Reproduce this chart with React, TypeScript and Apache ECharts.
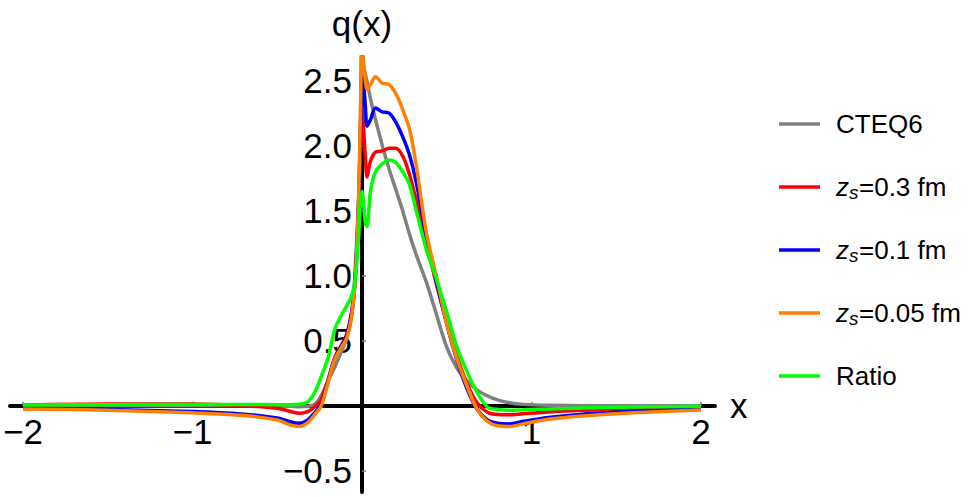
import React, { useEffect, useRef } from "react";
import * as echarts from "echarts";

const FONT = '"Liberation Sans", Arial, Helvetica, sans-serif';

// shared x sample points
const xs = [-2, -1.5, -1, -0.7, -0.5, -0.42, -0.37, -0.32, -0.28, -0.24, -0.2, -0.16, -0.12, -0.09, -0.06, -0.04, -0.02, -0.01, 0, 0.01, 0.02, 0.03, 0.05, 0.08, 0.12, 0.16, 0.2, 0.24, 0.28, 0.32, 0.38, 0.44, 0.5, 0.56, 0.62, 0.68, 0.74, 0.8, 0.87, 0.95, 1.1, 1.3, 1.6, 2.0];

const cteq6 = [0, 0, 0, 0, -0.002, -0.005, -0.008, -0.005, 0.01, 0.08, 0.19, 0.3, 0.42, 0.52, 0.7, 1.05, 1.6, 2.1, 2.9, 2.62, 2.55, 2.49, 2.36, 2.2, 2.0, 1.82, 1.66, 1.5, 1.32, 1.16, 0.95, 0.7, 0.45, 0.29, 0.19, 0.12, 0.075, 0.045, 0.022, 0.01, 0.003, 0, 0, 0];

const zs03 = [0.005, 0.012, 0.012, 0.0, -0.02, -0.045, -0.058, -0.045, -0.01, 0.05, 0.2, 0.37, 0.47, 0.55, 0.73, 0.98, 1.5, 1.9, 2.3, 2.12, 1.9, 1.76, 1.88, 1.95, 1.96, 1.98, 1.98, 1.92, 1.78, 1.58, 1.25, 0.93, 0.64, 0.38, 0.17, 0.02, -0.05, -0.068, -0.07, -0.062, -0.048, -0.035, -0.025, -0.02];

const zs01 = [-0.02, -0.03, -0.045, -0.065, -0.095, -0.125, -0.135, -0.11, -0.055, 0.01, 0.19, 0.37, 0.46, 0.54, 0.72, 0.98, 1.55, 2.05, 2.58, 2.47, 2.3, 2.15, 2.2, 2.29, 2.26, 2.25, 2.18, 2.07, 1.93, 1.72, 1.3, 0.95, 0.63, 0.35, 0.13, -0.03, -0.11, -0.135, -0.14, -0.12, -0.09, -0.065, -0.045, -0.025];

const zs005 = [-0.025, -0.035, -0.055, -0.075, -0.11, -0.15, -0.16, -0.13, -0.07, 0.0, 0.18, 0.36, 0.45, 0.52, 0.7, 0.97, 1.6, 2.2, 2.72, 2.62, 2.5, 2.43, 2.47, 2.53, 2.48, 2.47, 2.4, 2.28, 2.13, 1.85, 1.33, 0.99, 0.63, 0.36, 0.15, -0.03, -0.12, -0.155, -0.16, -0.14, -0.105, -0.08, -0.055, -0.033];

const ratio = [0.005, 0.008, 0.01, 0.01, 0.008, 0.008, 0.012, 0.03, 0.1, 0.225, 0.37, 0.59, 0.7, 0.77, 0.85, 0.97, 1.3, 1.55, 1.65, 1.55, 1.4, 1.38, 1.65, 1.8, 1.86, 1.89, 1.87, 1.8, 1.7, 1.5, 1.2, 0.97, 0.72, 0.45, 0.26, 0.1, -0.01, -0.03, -0.035, -0.032, -0.025, -0.018, -0.01, -0.005];

const xTicks = [-2, -1, 1, 2];
const yTicks = [-0.5, 0.5, 1, 1.5, 2, 2.5];

const seriesNames = ["CTEQ6", "zs=0.3 fm", "zs=0.1 fm", "zs=0.05 fm", "Ratio"];
const seriesValues = [cteq6, zs03, zs01, zs005, ratio];
const seriesColors = ["#808080", "#ff0000", "#0000ff", "#ff8000", "#00ff00"];

const X_MIN = -2.077;
const X_MAX = 2.083;
const Y_MIN = -0.664;
const Y_MAX = 2.682;

const fmtNum = (v: number, digits: number) =>
  (v < 0 ? "\u2212" : "") + Math.abs(v).toFixed(digits);

export default function App() {
  const ref = useRef<HTMLDivElement>(null);

  useEffect(() => {
    if (!ref.current) return;
    const chart = echarts.init(ref.current, null, { renderer: "svg" });

    const gridLeft = 10;
    const gridTop = 57;
    const gridW = 705;
    const gridH = 435;
    // place the axes through the origin (Mathematica "axes" style)
    const yAxisOffset = -((0 - X_MIN) / (X_MAX - X_MIN)) * gridW;
    const xAxisOffset = -((0 - Y_MIN) / (Y_MAX - Y_MIN)) * gridH;

    const legendTop = 124;
    const legendStep = 63;
    const graphic: any[] = [];
    seriesNames.forEach((name, i) => {
      const y = legendTop + i * legendStep;
      graphic.push({
        type: "line",
        shape: { x1: 779, y1: y, x2: 820, y2: y },
        style: { stroke: seriesColors[i], lineWidth: 3.5 },
        silent: true,
      });
      if (name.startsWith("zs")) {
        graphic.push({
          type: "text",
          x: 836,
          y,
          style: { text: "z", fill: "#000", font: `italic 26px ${FONT}`, verticalAlign: "middle", align: "left" },
        });
        graphic.push({
          type: "text",
          x: 849,
          y: y + 5,
          style: { text: "s", fill: "#000", font: `italic 19px ${FONT}`, verticalAlign: "middle", align: "left" },
        });
        graphic.push({
          type: "text",
          x: 859,
          y,
          style: { text: name.slice(2), fill: "#000", font: `26px ${FONT}`, verticalAlign: "middle", align: "left" },
        });
      } else {
        graphic.push({
          type: "text",
          x: 836,
          y,
          style: { text: name, fill: "#000", font: `26px ${FONT}`, verticalAlign: "middle", align: "left" },
        });
      }
    });

    chart.setOption({
      animation: false,
      backgroundColor: "#ffffff",
      textStyle: { fontFamily: FONT },
      grid: {
        left: gridLeft,
        top: gridTop,
        width: gridW,
        height: gridH,
        containLabel: false,
        outerBoundsMode: "none",
      },
      xAxis: {
        type: "value",
        min: X_MIN,
        max: X_MAX,
        position: "bottom",
        offset: xAxisOffset,
        name: "x",
        nameLocation: "end",
        nameGap: 15,
        nameTextStyle: { fontSize: 35, color: "#000", fontFamily: FONT, verticalAlign: "middle" },
        splitLine: { show: false },
        axisLine: { onZero: false, lineStyle: { color: "#000", width: 4 } },
        axisTick: { show: true, inside: true, length: 4, customValues: xTicks, lineStyle: { color: "#808080", width: 1.5 } },
        axisLabel: {
          customValues: xTicks,
          fontSize: 35,
          color: "#000",
          fontFamily: FONT,
          margin: 8,
          formatter: (v: number) => fmtNum(v, 0),
        },
      },
      yAxis: {
        type: "value",
        min: Y_MIN,
        max: Y_MAX,
        position: "left",
        offset: yAxisOffset,
        name: "q(x)",
        nameLocation: "end",
        nameGap: 16,
        nameTextStyle: { fontSize: 35, color: "#000", fontFamily: FONT, align: "center" },
        splitLine: { show: false },
        axisLine: { onZero: false, lineStyle: { color: "#000", width: 4 } },
        axisTick: { show: true, inside: true, length: 4, customValues: yTicks, lineStyle: { color: "#808080", width: 1.5 } },
        axisLabel: {
          customValues: yTicks,
          fontSize: 35,
          color: "#000",
          fontFamily: FONT,
          margin: 10,
          formatter: (v: number) => fmtNum(v, 1),
        },
      },
      series: seriesNames.map((name, i) => ({
        name,
        type: "line",
        data: xs.map((x, j) => [x, seriesValues[i][j]]),
        showSymbol: false,
        smooth: 0.3,
        clip: true,
        lineStyle: { color: seriesColors[i], width: 3.5 },
        itemStyle: { color: seriesColors[i] },
        z: 2 + i,
      })),
      graphic,
    });

    return () => chart.dispose();
  }, []);

  return (
    <div
      ref={ref}
      style={{ position: "absolute", left: 0, top: 0, width: 977, height: 497, background: "#fff" }}
    />
  );
}
